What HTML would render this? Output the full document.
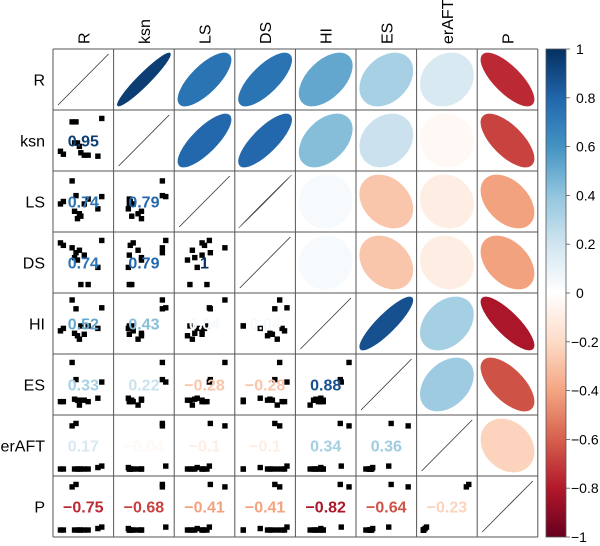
<!DOCTYPE html>
<html><head><meta charset="utf-8">
<style>
body{margin:0;background:#fff;}
svg{display:block;font-family:"Liberation Sans",Arial,sans-serif;}
</style></head>
<body>
<svg id="chart" width="600" height="546" viewBox="0 0 600 546"></svg>
<script>
const vars = ["R","ksn","LS","DS","HI","ES","erAFT","P"];
const corrR     = [1, 0.95, 0.74, 0.74, 0.52, 0.33, 0.17, -0.75];
const corrKsn   = [0.95, 1, 0.79, 0.79, 0.43, 0.22, -0.04, -0.68];
const corrLS    = [0.74, 0.79, 1, 1, 0.04, -0.28, -0.1, -0.41];
const corrDS    = [0.74, 0.79, 1, 1, 0.04, -0.28, -0.1, -0.41];
const corrHI    = [0.52, 0.43, 0.04, 0.04, 1, 0.88, 0.34, -0.82];
const corrES    = [0.33, 0.22, -0.28, -0.28, 0.88, 1, 0.36, -0.64];
const corrErAFT = [0.17, -0.04, -0.1, -0.1, 0.34, 0.36, 1, -0.23];
const corrP     = [-0.75, -0.68, -0.41, -0.41, -0.82, -0.64, -0.23, 1];
const corr = [corrR, corrKsn, corrLS, corrDS, corrHI, corrES, corrErAFT, corrP];
const corrLabels = [
 ["", "", "", "", "", "", "", ""],
 ["0.95", "", "", "", "", "", "", ""],
 ["0.74", "0.79", "", "", "", "", "", ""],
 ["0.74", "0.79", "1", "", "", "", "", ""],
 ["0.52", "0.43", "0.04", "0.04", "", "", "", ""],
 ["0.33", "0.22", "\u22120.28", "\u22120.28", "0.88", "", "", ""],
 ["0.17", "\u22120.04", "\u22120.1", "\u22120.1", "0.34", "0.36", "", ""],
 ["\u22120.75", "\u22120.68", "\u22120.41", "\u22120.41", "\u22120.82", "\u22120.64", "\u22120.23", ""]
];
// per-sample normalized values (0..1) for scatter panels
const sampleR     = [0.03,0.09,0.27,0.35,0.88,0.32,0.38,0.42,0.52,0.45,0.60,0.80];
const sampleKsn   = [0.28,0.22,0.88,0.88,0.95,0.45,0.45,0.38,0.20,0.25,0.20,0.18];
const sampleLS    = [0.45,0.50,0.92,0.62,0.60,0.30,0.15,0.25,0.45,0.20,0.55,0.35];
const sampleDS    = [0.90,0.85,0.80,0.70,0.95,0.60,0.55,0.75,0.65,0.05,0.05,0.40];
const sampleHI    = [0.35,0.40,0.98,0.80,0.82,0.30,0.25,0.18,0.28,0.45,0.45,0.40];
const sampleES    = [0.15,0.15,0.95,0.60,0.55,0.20,0.18,0.08,0.18,0.18,0.15,0.22];
const sampleErAFT = [0.02,0.02,0.90,0.95,0.08,0.02,0.02,0.02,0.02,0.02,0.02,0.05];
const sampleP     = [0.02,0.02,0.90,0.95,0.08,0.02,0.02,0.02,0.02,0.02,0.02,0.05];
const samples = [sampleR, sampleKsn, sampleLS, sampleDS, sampleHI, sampleES, sampleErAFT, sampleP];
const cbTicks = [1,0.8,0.6,0.4,0.2,0,-0.2,-0.4,-0.6,-0.8,-1];
const cbTickLabels = ["1","0.8","0.6","0.4","0.2","0","\u22120.2","\u22120.4","\u22120.6","\u22120.8","\u22121"];

const NS = "http://www.w3.org/2000/svg";
const svg = document.getElementById("chart");
const X0 = 53, Y0 = 49, CW = 60.6, CH = 61;
const stops = [[-1,[103,0,31]],[-0.8,[178,24,43]],[-0.6,[214,96,77]],[-0.4,[244,165,130]],[-0.2,[253,219,199]],[0,[255,255,255]],[0.2,[209,229,240]],[0.4,[146,197,222]],[0.6,[67,147,195]],[0.8,[33,102,172]],[1,[5,48,97]]];
function colorOf(v){
  for(let i=0;i<stops.length-1;i++){
    const a=stops[i], b=stops[i+1];
    if(v>=a[0] && v<=b[0]){
      const t=(v-a[0])/(b[0]-a[0]);
      const c=a[1].map((x,k)=>Math.round(x+(b[1][k]-x)*t));
      return "rgb("+c.join(",")+")";
    }
  }
  return "rgb(255,255,255)";
}
function mk(tag, attrs, parent){
  const e=document.createElementNS(NS,tag);
  for(const k in attrs) e.setAttribute(k, attrs[k]);
  (parent||svg).appendChild(e);
  return e;
}
function cellX(j){return X0 + j*CW;}
function cellY(i){return Y0 + i*CH;}

// column labels
vars.forEach((v,j)=>{
  const cx = cellX(j)+CW/2+6, cy = 44;
  const t = mk("text",{x:cx,y:cy,"font-size":16,fill:"#000",transform:"rotate(-90 "+cx+" "+cy+")"});
  
  
  t.textContent=v;
});
// row labels
vars.forEach((v,i)=>{
  const t = mk("text",{x:45,y:cellY(i)+CH/2+6,"font-size":16,fill:"#000","text-anchor":"end"});
  
  
  t.textContent=v;
});

for(let i=0;i<8;i++){
  for(let j=0;j<8;j++){
    const x=cellX(j), y=cellY(i);
    const g = mk("g",{});
    
    
    if(i===j){
      const l = mk("line",{x1:x+5,y1:y+CH-5,x2:x+CW-5,y2:y+5,stroke:"#333","stroke-width":0.8},g);
      
      
    } else if(j>i){
      const r=corr[i][j], k=26.5;
      const rx=k*Math.sqrt(1+Math.abs(r)), ry=Math.max(0.3,k*Math.sqrt(1-Math.abs(r)));
      const cx=x+CW/2, cy=y+CH/2;
      const col = Math.abs(r)>=0.999 ? "#444" : colorOf(r);
      const e = mk("ellipse",{cx:cx,cy:cy,rx:rx,ry:ry,fill:col,stroke:col,"stroke-width":0.7,transform:"rotate("+(r>=0?-45:45)+" "+cx+" "+cy+")"},g);
      
      
    } else {
      const xs=samples[j], ys=samples[i];
      for(let s=0;s<xs.length;s++){
        const px=x+6+xs[s]*(CW-12), py=y+CH-6-ys[s]*(CH-12);
        const p = mk("rect",{x:px-2.7,y:py-2.7,width:5.4,height:5.4,fill:"#000"},g);
        
        
      }
      const t = mk("text",{x:x+CW/2,y:y+CH/2+6,"font-size":16,"font-weight":"bold",fill:colorOf(corr[i][j]),"text-anchor":"middle"},g);
      
      
      t.textContent=corrLabels[i][j];
    }
  }
}
// grid lines
const grid = mk("g",{stroke:"#555","stroke-width":1,fill:"none"});


for(let k=0;k<=8;k++){
  mk("line",{x1:cellX(k),y1:Y0,x2:cellX(k),y2:cellY(8)},grid);
  mk("line",{x1:X0,y1:cellY(k),x2:cellX(8),y2:cellY(k)},grid);
}

// colorbar
const CBX=546, CBW=20, CBT=Y0, CBB=cellY(8);
const defs = mk("defs",{});
const grad = mk("linearGradient",{id:"cbg",x1:0,y1:0,x2:0,y2:1},defs);
stops.slice().reverse().forEach((s,idx)=>{
  mk("stop",{offset:(idx/(stops.length-1)),"stop-color":"rgb("+s[1].join(",")+")"},grad);
});
const cb = mk("rect",{x:CBX,y:CBT,width:CBW,height:CBB-CBT,fill:"url(#cbg)",stroke:"#555","stroke-width":0.8});


function cbY(v){return CBT+(1-v)/2*(CBB-CBT);}
cbTicks.forEach((v,idx)=>{
  const yy=cbY(v);
  const tk = mk("line",{x1:CBX+CBW,y1:yy,x2:CBX+CBW+4,y2:yy,stroke:"#555","stroke-width":0.8});
  
  
  const t = mk("text",{x:v<0?571:576,y:yy+5,"font-size":14,fill:"#000"});
  
  
  t.textContent=cbTickLabels[idx];
});
</script>
</body></html>
